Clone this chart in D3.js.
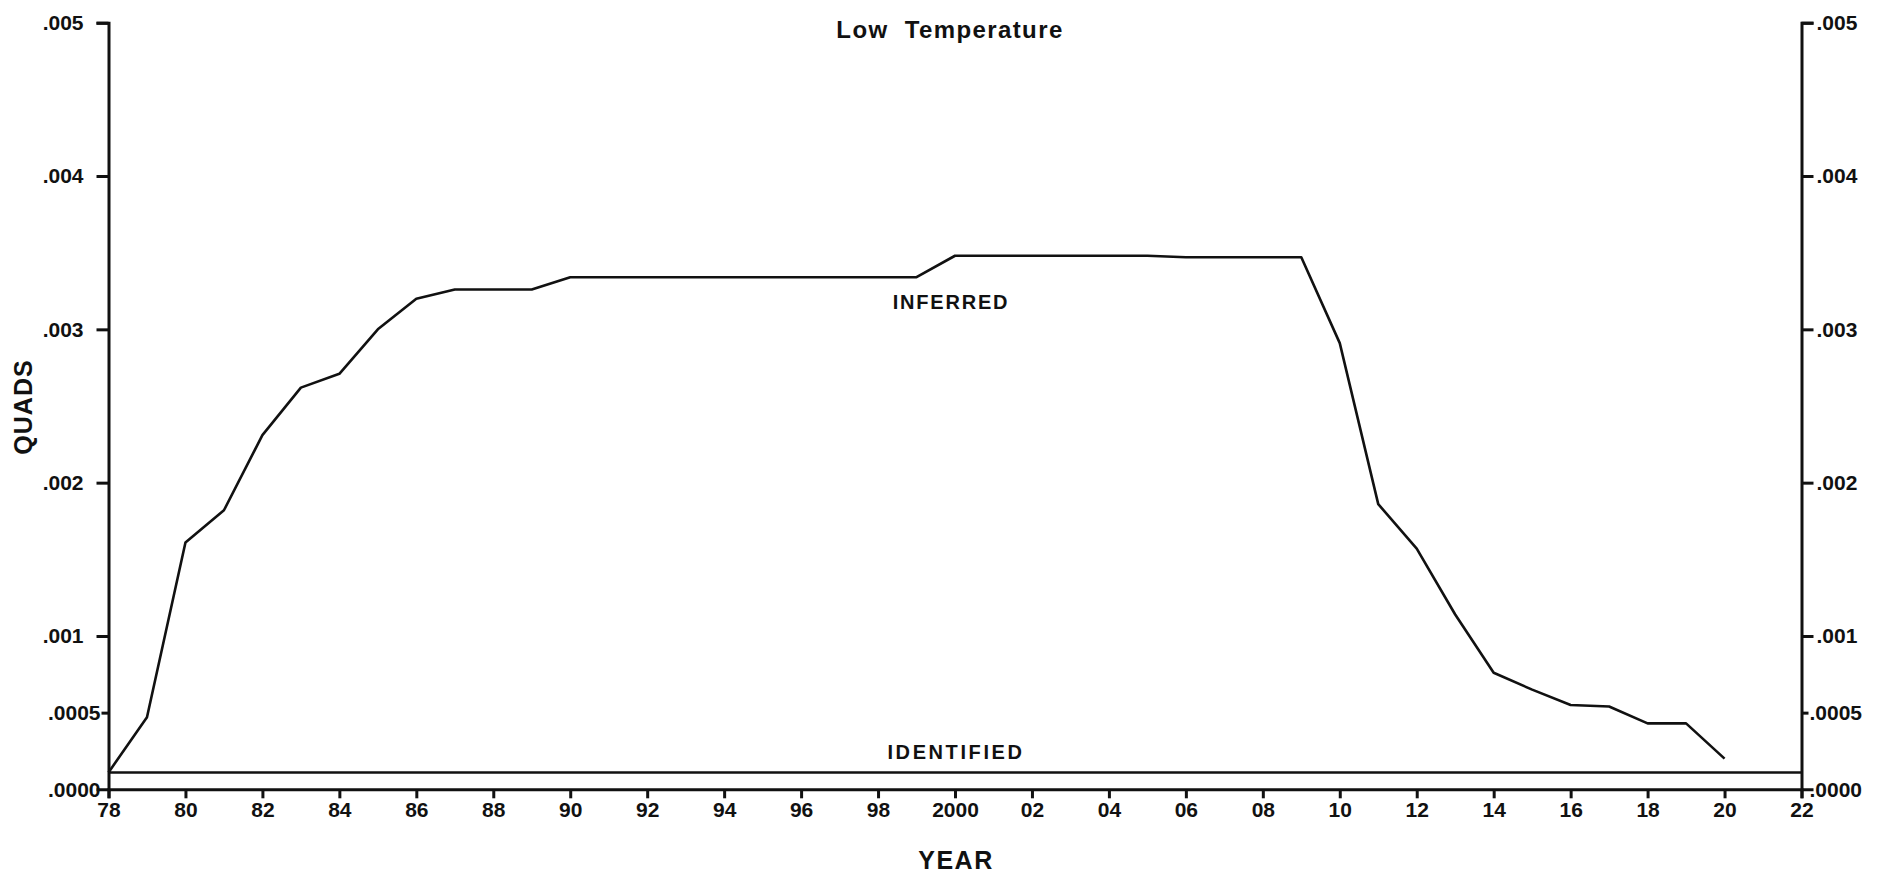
<!DOCTYPE html>
<html>
<head>
<meta charset="utf-8">
<script src="https://cdn.jsdelivr.net/npm/d3@7/dist/d3.min.js"></script>
<style>
  body { margin: 0; background: #fff; }
  svg text { font-family: "Liberation Sans", Arial, Helvetica, sans-serif; font-weight: bold; fill: #111; }
</style>
</head>
<body>
<div class="chart"></div>
<script>

////////// DATA //////////

const inferredYears = [1978, 1979, 1980, 1981, 1982, 1983, 1984, 1985, 1986, 1987,
  1988, 1989, 1990, 1991, 1992, 1993, 1994, 1995, 1996, 1997,
  1998, 1999, 2000, 2001, 2002, 2003, 2004, 2005, 2006, 2007,
  2008, 2009, 2010, 2011, 2012, 2013, 2014, 2015, 2016, 2017,
  2018, 2019, 2020];

const inferred = [0.00011, 0.00047, 0.00161, 0.00182, 0.00231, 0.00262, 0.00271, 0.00300, 0.00320, 0.00326,
  0.00326, 0.00326, 0.00334, 0.00334, 0.00334, 0.00334, 0.00334, 0.00334, 0.00334, 0.00334,
  0.00334, 0.00334, 0.00348, 0.00348, 0.00348, 0.00348, 0.00348, 0.00348, 0.00347, 0.00347,
  0.00347, 0.00347, 0.00291, 0.00186, 0.00157, 0.00114, 0.00076, 0.00065, 0.00055, 0.00054,
  0.00043, 0.00043, 0.00020];

const identifiedYears = [1978, 2022];
const identified = [0.00011, 0.00011];

const yTicks = [0, 0.0005, 0.001, 0.002, 0.003, 0.004, 0.005];
const yTickLabels = [".0000", ".0005", ".001", ".002", ".003", ".004", ".005"];

const xTicks = [1978, 1980, 1982, 1984, 1986, 1988, 1990, 1992, 1994, 1996, 1998,
  2000, 2002, 2004, 2006, 2008, 2010, 2012, 2014, 2016, 2018, 2020, 2022];
const xTickLabels = ["78", "80", "82", "84", "86", "88", "90", "92", "94", "96", "98",
  "2000", "02", "04", "06", "08", "10", "12", "14", "16", "18", "20", "22"];


////////// SETUP //////////

const width = 1886, height = 876;

let svg = d3.select(".chart")
  .append("svg")
  .attr("width", width)
  .attr("height", height)
  .style("display", "block");

svg.append("rect")
  .attr("width", width)
  .attr("height", height)
  .attr("fill", "#fff");

let x = d3.scaleLinear()
  .domain([1978, 2022])
  .range([108.5, 1801.5]);

let y = d3.scaleLinear()
  .domain([0, 0.005])
  .range([789.3, 22.7]);

// tick lengths differ a little on the scanned original
function tickLen(d) {
  if (d === 0) return 0;
  if (d === 0.0005) return 7;
  return 12;
}


////////// AXES //////////

let left = svg.append("g")
  .attr("class", "axis left")
  .attr("transform", "translate(" + x.range()[0] + ",0)")
  .call(d3.axisLeft(y)
    .tickValues(yTicks)
    .tickFormat((d, i) => yTickLabels[i])
    .tickSizeOuter(0)
    .tickSize(12)
    .tickPadding(4));

left.selectAll(".tick line").attr("x2", d => -tickLen(d));
left.selectAll(".tick text")
  .attr("x", d => d <= 0.0005 ? -8 : -tickLen(d) - 13);

let right = svg.append("g")
  .attr("class", "axis right")
  .attr("transform", "translate(" + x.range()[1] + ",0)")
  .call(d3.axisRight(y)
    .tickValues(yTicks)
    .tickFormat((d, i) => yTickLabels[i])
    .tickSizeOuter(0)
    .tickSize(12)
    .tickPadding(4));

right.selectAll(".tick line").attr("x2", d => tickLen(d));
right.selectAll(".tick text")
  .attr("x", d => d <= 0.0005 ? 8 : tickLen(d) + 3);

let bottom = svg.append("g")
  .attr("class", "axis bottom")
  .attr("transform", "translate(0," + y(0) + ")")
  .call(d3.axisBottom(x)
    .tickValues(xTicks)
    .tickFormat((d, i) => xTickLabels[i])
    .tickSizeOuter(0)
    .tickSize(9)
    .tickPadding(4));

svg.selectAll(".axis")
  .attr("font-size", 21);

svg.selectAll(".axis .domain")
  .attr("stroke", "#111")
  .attr("stroke-width", 3);

svg.selectAll(".axis .tick line")
  .attr("stroke", "#111")
  .attr("stroke-width", 3);


////////// LINES //////////

let line = d3.line()
  .x(d => x(d[0]))
  .y(d => y(d[1]));

svg.append("path")
  .datum(d3.zip(identifiedYears, identified))
  .attr("fill", "none")
  .attr("stroke", "#111")
  .attr("stroke-width", 2.4)
  .attr("d", line);

svg.append("path")
  .datum(d3.zip(inferredYears, inferred))
  .attr("fill", "none")
  .attr("stroke", "#111")
  .attr("stroke-width", 2.6)
  .attr("stroke-linejoin", "round")
  .attr("d", line);


////////// LABELS //////////

svg.append("text")
  .attr("x", 950)
  .attr("y", 38)
  .attr("text-anchor", "middle")
  .attr("font-size", 24)
  .attr("letter-spacing", 1.4)
  .attr("xml:space", "preserve")
  .style("white-space", "pre")
  .text("Low  Temperature");

svg.append("text")
  .attr("x", 951)
  .attr("y", 309)
  .attr("text-anchor", "middle")
  .attr("font-size", 20)
  .attr("letter-spacing", 1.8)
  .text("INFERRED");

svg.append("text")
  .attr("x", 956)
  .attr("y", 759)
  .attr("text-anchor", "middle")
  .attr("font-size", 20)
  .attr("letter-spacing", 2.6)
  .text("IDENTIFIED");

svg.append("text")
  .attr("x", 956)
  .attr("y", 869)
  .attr("text-anchor", "middle")
  .attr("font-size", 25)
  .attr("letter-spacing", 1.5)
  .text("YEAR");

svg.append("text")
  .attr("transform", "translate(32,407) rotate(-90)")
  .attr("text-anchor", "middle")
  .attr("font-size", 25)
  .attr("letter-spacing", 1)
  .text("QUADS");

</script>
</body>
</html>
